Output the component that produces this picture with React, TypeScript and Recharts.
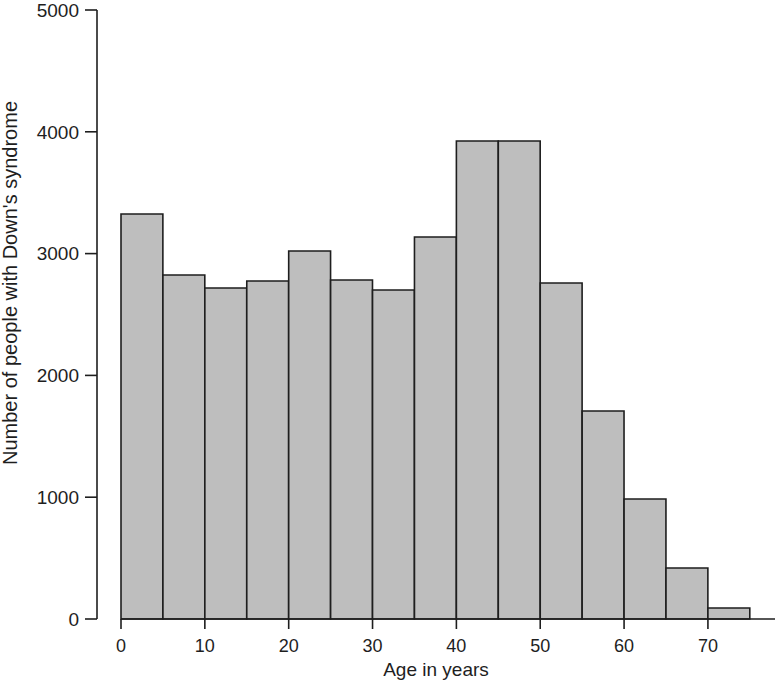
import { Bar, BarChart, Label, ReferenceLine, XAxis, YAxis } from 'recharts';

// histogram bins, 5-year age groups
const binStarts = [0, 5, 10, 15, 20, 25, 30, 35, 40, 45, 50, 55, 60, 65, 70];
const binWidth = 5;
const counts = [3325, 2824, 2718, 2775, 3021, 2783, 2701, 3136, 3924, 3924, 2759, 1708, 985, 419, 90];
const xTicks = [0, 10, 20, 30, 40, 50, 60, 70];
const yTicks = [0, 1000, 2000, 3000, 4000, 5000];

const rows = binStarts.map((start, i) => ({ mid: start + binWidth / 2, count: counts[i] }));

const W = 779;
const H = 683;
const PLOT_LEFT = 97;
const PLOT_RIGHT = 775;
const X_ZERO = 121;
const X_MAX = 78;
const pxPerYear = (PLOT_RIGHT - X_ZERO) / X_MAX;
const X_MIN = -(X_ZERO - PLOT_LEFT) / pxPerYear;

const FONT = '"Liberation Sans", Arial, sans-serif';
const INK = '#1e1e1e';

function YTitle() {
    return (
        <text
            x={17}
            y={283}
            transform="rotate(-90 17 283)"
            textAnchor="middle"
            fontFamily={FONT}
            fontSize={20}
            fill={INK}
        >
            Number of people with Down's syndrome
        </text>
    );
}

export default function App() {
    return (
        <div style={{ position: 'absolute', left: 0, top: 0, background: '#fff' }}>
            <BarChart
                width={W}
                height={H}
                data={rows}
                margin={{ top: 10, right: W - PLOT_RIGHT, left: 0, bottom: 0 }}
            >
                <XAxis
                    dataKey="mid"
                    type="number"
                    domain={[X_MIN, X_MAX]}
                    allowDataOverflow
                    ticks={xTicks}
                    interval={0}
                    height={64}
                    axisLine={false}
                    tickSize={10}
                    tickMargin={10}
                    tickLine={{ stroke: INK, strokeWidth: 1.6 }}
                    tick={{ fill: INK, fontSize: 18, fontFamily: FONT }}
                >
                    <Label
                        value="Age in years"
                        position="insideBottom"
                        offset={7}
                        style={{ fill: INK, fontSize: 19, fontFamily: FONT }}
                    />
                </XAxis>
                <YAxis
                    domain={[0, 5000]}
                    ticks={yTicks}
                    interval={0}
                    width={PLOT_LEFT}
                    tickSize={12}
                    tickMargin={6}
                    axisLine={{ stroke: INK, strokeWidth: 1.6 }}
                    tickLine={{ stroke: INK, strokeWidth: 1.6 }}
                    tick={{ fill: INK, fontSize: 19, fontFamily: FONT }}
                >
                    <Label content={YTitle} />
                </YAxis>
                <Bar
                    dataKey="count"
                    fill="#bebebe"
                    stroke={INK}
                    strokeWidth={1.6}
                    barSize={binWidth * pxPerYear - 0.05}
                    isAnimationActive={false}
                />
                <ReferenceLine
                    segment={[
                        { x: 0, y: 0 },
                        { x: X_MAX, y: 0 },
                    ]}
                    stroke={INK}
                    strokeWidth={1.6}
                />
            </BarChart>
        </div>
    );
}
